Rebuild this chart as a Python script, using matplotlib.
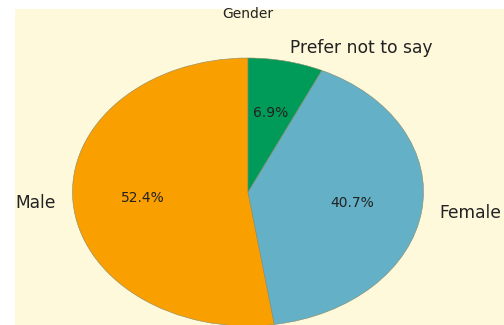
import matplotlib
matplotlib.use("Agg")
import matplotlib.pyplot as plt

# data
labels = ["Male", "Female", "Prefer not to say"]
shares = [52.4, 40.7, 6.9]
colors = ["#F9A000", "#64B0C6", "#009B58"]

W, H = 504, 325
fig = plt.figure(figsize=(W / 100, H / 100), dpi=100, facecolor="white")

# cream panel (image is cropped with a white strip on left/top)
bg = fig.add_axes([15 / W, 0, 1 - 15 / W, 1 - 9 / H], zorder=-5)
bg.set_facecolor("#FFF9DC")
bg.set_xticks([])
bg.set_yticks([])
for s in bg.spines.values():
    s.set_visible(False)

# pie appears stretched horizontally: radii ~175 x 134 px, centre (248, 192)
cx, cy, rx, ry = 248, 192, 175.5, 134
ax = fig.add_axes([(cx - rx) / W, (H - cy - ry) / H, 2 * rx / W, 2 * ry / H])
ax.set_facecolor("none")

wedges, texts, autotexts = ax.pie(
    shares, labels=labels, colors=colors, autopct="%1.1f%%",
    startangle=90, labeldistance=1.1, pctdistance=0.6,
    wedgeprops={"edgecolor": "#8a8a6a", "linewidth": 0.4},
    textprops={"fontsize": 12.3, "color": "#222222"},
)
for t in autotexts:
    t.set_fontsize(10)
    t.set_color("#222222")

ax.set_aspect("auto")
ax.set_xlim(-1, 1)
ax.set_ylim(-1, 1)
ax.axis("off")
for w in wedges:
    w.set_clip_on(False)

fig.text(cx / W, 1 - 14 / H, "Gender", ha="center", va="center",
         fontsize=10, color="#222222")

fig.savefig("out.png", dpi=100)
